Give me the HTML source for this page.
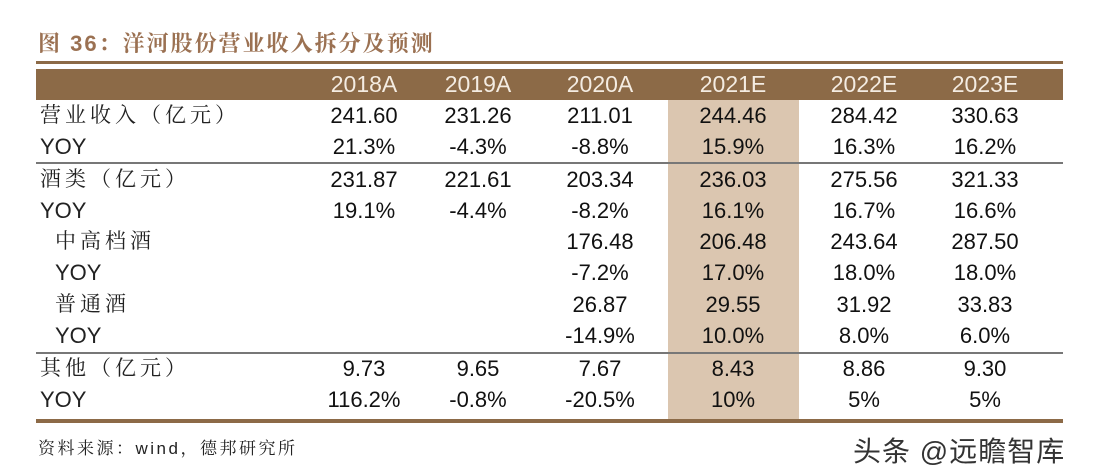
<!DOCTYPE html>
<html><head><meta charset="utf-8">
<style>
body{margin:0;width:1100px;height:470px;background:#fff;position:relative;overflow:hidden;font-family:"Liberation Sans","Noto Serif CJK SC",sans-serif;}
.a{position:absolute;}
.title{left:38px;top:27px;font-size:22px;font-weight:bold;color:#9b7152;font-family:"Liberation Sans","Noto Serif CJK SC",serif;letter-spacing:2px;}
.cell{position:absolute;width:130px;text-align:center;font-size:22px;color:#111;line-height:30px;}
.hdr{color:#f4ece2;font-size:23px;}
.lbl{position:absolute;font-size:21px;color:#222;line-height:30px;font-family:"Liberation Sans","Noto Serif CJK SC",serif;letter-spacing:4px;}
.yoy{font-family:"Liberation Sans",sans-serif;letter-spacing:0;font-size:22px;}
</style></head><body>
<div class="a title">图 36：洋河股份营业收入拆分及预测</div>
<div class="a" style="left:36px;top:61px;width:1027px;height:3px;background:#8c6a47"></div>
<div class="a" style="left:36px;top:69px;width:1027px;height:31px;background:#8c6a47"></div>
<div class="a" style="left:668px;top:100px;width:131px;height:319px;background:#dbc6b0"></div>
<div class="a" style="left:36px;top:162px;width:1027px;height:2px;background:#777"></div>
<div class="a" style="left:36px;top:352px;width:1027px;height:2px;background:#777"></div>
<div class="a" style="left:36px;top:419px;width:1027px;height:4px;background:#8c6a47"></div>
<div id="tbl"></div>
<div class="a" style="left:38px;top:434px;font-size:17px;color:#222;font-family:'Liberation Sans','Noto Serif CJK SC',serif;letter-spacing:2.5px">资料来源：wind，德邦研究所</div>
<div class="a" style="left:853px;top:430px;font-size:28px;color:#333;letter-spacing:1px;font-family:'Liberation Sans','Noto Sans CJK SC',sans-serif">头条 @远瞻智库</div>
<script>
const years=["2018A","2019A","2020A","2021E","2022E","2023E"];
const labels=["营业收入（亿元）","YOY","酒类（亿元）","YOY","中高档酒","YOY","普通酒","YOY","其他（亿元）","YOY"];
const indent=[0,0,0,0,1,1,1,1,0,0];
const rows=[
["241.60","231.26","211.01","244.46","284.42","330.63"],
["21.3%","-4.3%","-8.8%","15.9%","16.3%","16.2%"],
["231.87","221.61","203.34","236.03","275.56","321.33"],
["19.1%","-4.4%","-8.2%","16.1%","16.7%","16.6%"],
["","","176.48","206.48","243.64","287.50"],
["","","-7.2%","17.0%","18.0%","18.0%"],
["","","26.87","29.55","31.92","33.83"],
["","","-14.9%","10.0%","8.0%","6.0%"],
["9.73","9.65","7.67","8.43","8.86","9.30"],
["116.2%","-0.8%","-20.5%","10%","5%","5%"]];
const colX=[364,478,600,733,864,985];
const rowY=[116,147,180,211,242,273,305,336,369,400];
const t=document.getElementById('tbl');
years.forEach((y,i)=>{const d=document.createElement('div');d.className='cell hdr';


d.style.left=(colX[i]-65)+'px';d.style.top='69px';d.textContent=y;t.appendChild(d);});
labels.forEach((l,r)=>{const d=document.createElement('div');d.className='lbl'+(l==='YOY'?' yoy':'');


d.style.left=(indent[r]?55:40)+'px';d.style.top=(rowY[r]-15)+'px';d.textContent=l;t.appendChild(d);
rows[r].forEach((v,c)=>{if(!v)return;const e=document.createElement('div');e.className='cell';


e.style.left=(colX[c]-65)+'px';e.style.top=(rowY[r]-15)+'px';e.textContent=v;t.appendChild(e);});});
</script>
</body></html>
